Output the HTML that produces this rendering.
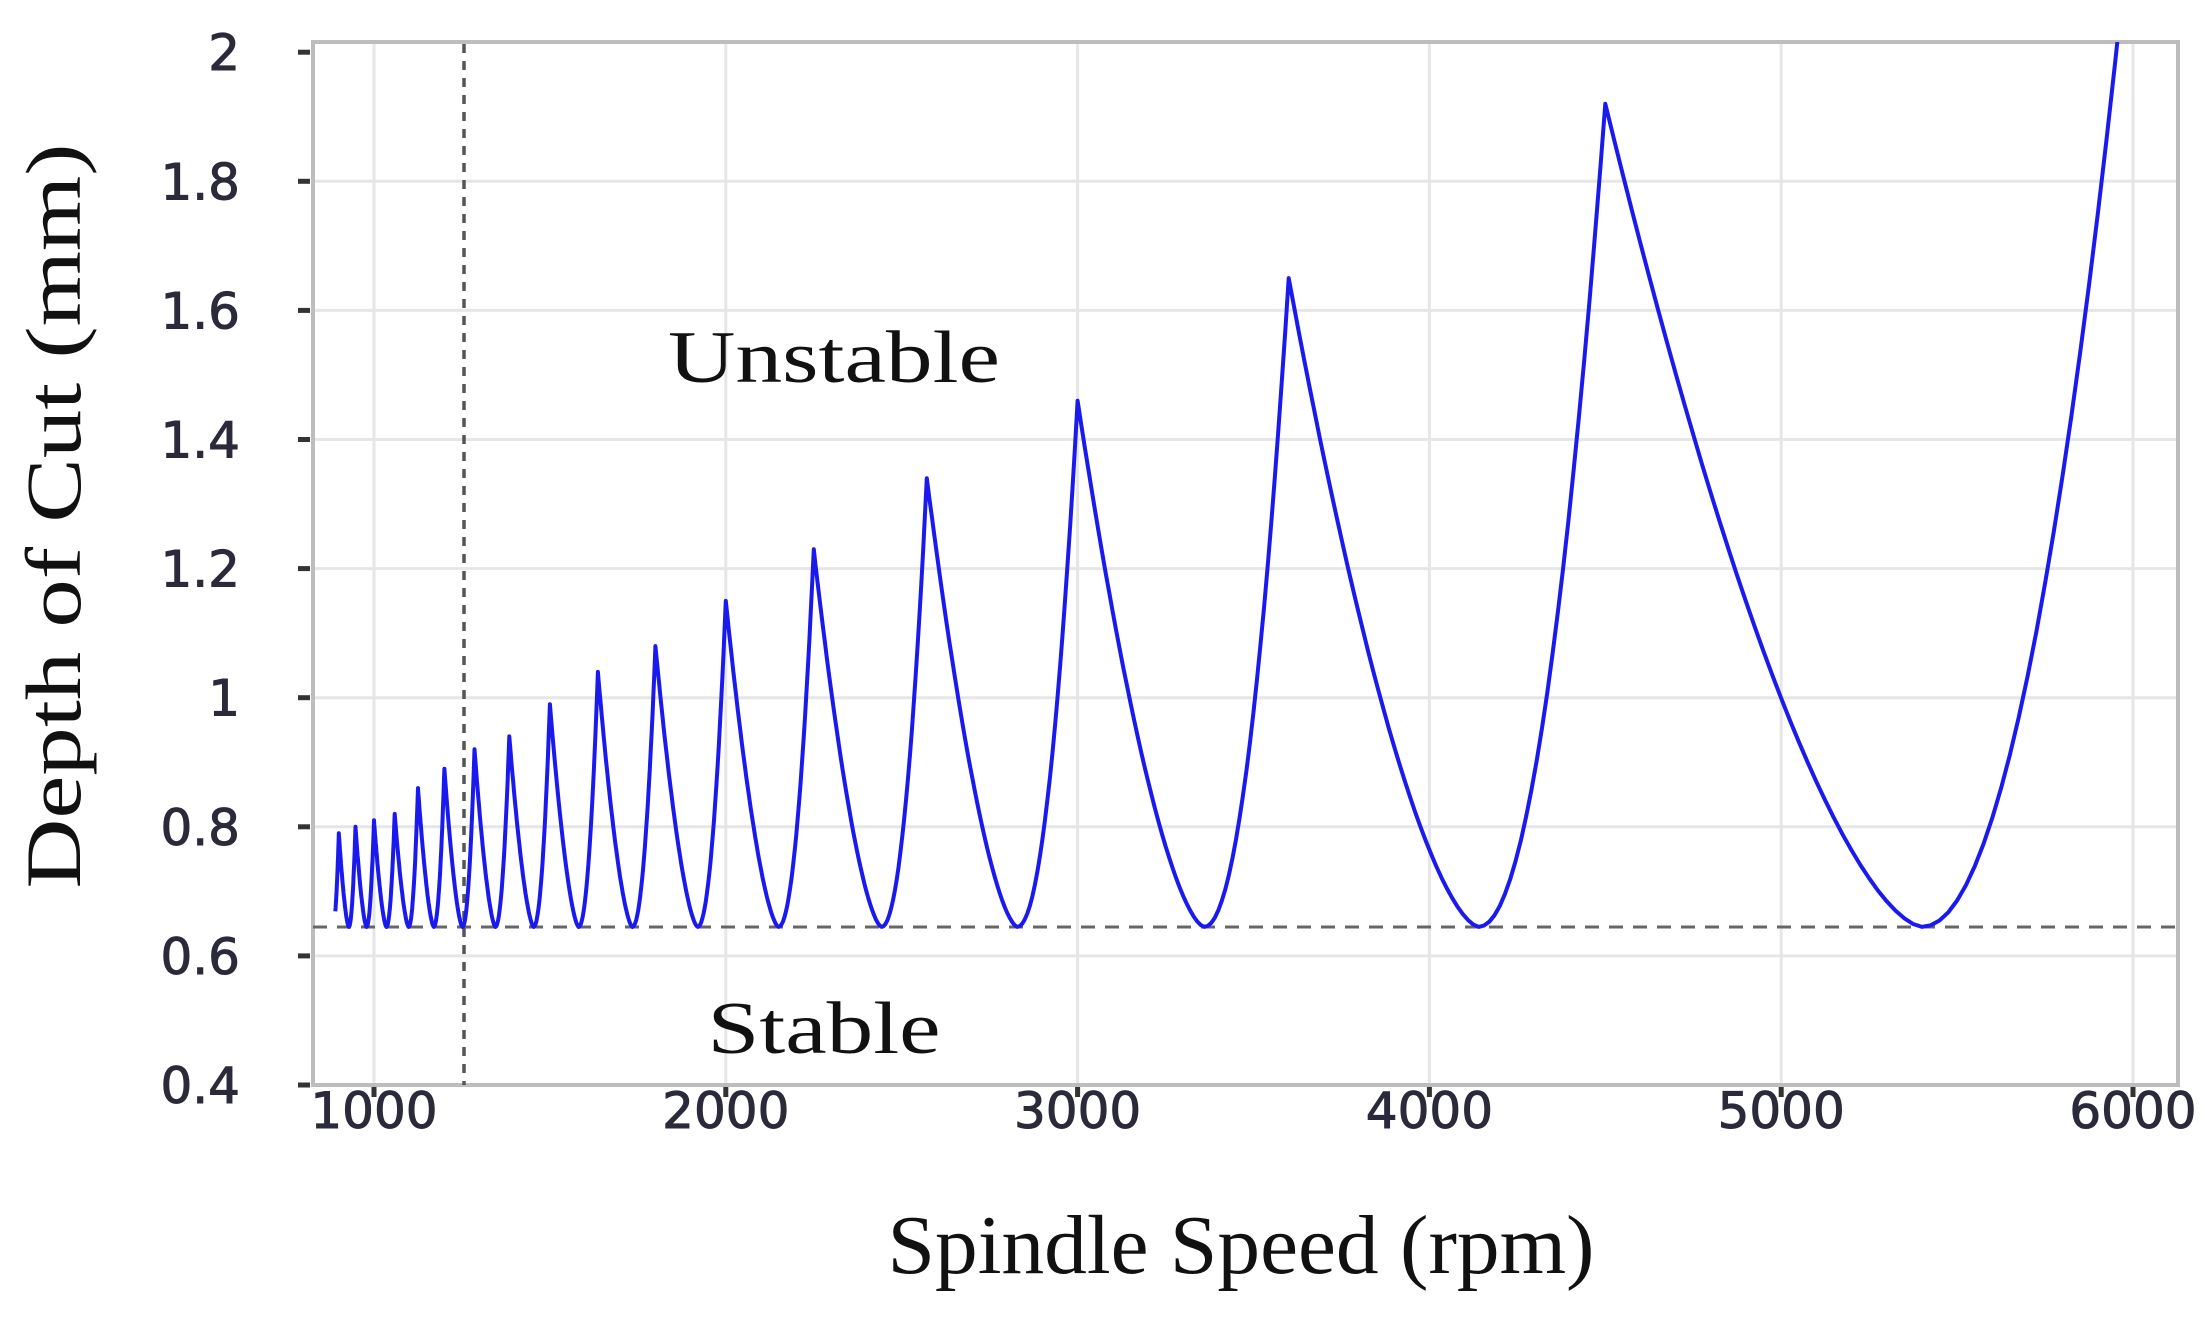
<!DOCTYPE html>
<html><head><meta charset="utf-8"><style>
html,body{margin:0;padding:0;background:#fff;}
svg{display:block}
</style></head><body>
<svg id="s" width="2206" height="1329" xmlns="http://www.w3.org/2000/svg">
<defs><clipPath id="c"><rect x="313" y="42" width="1865" height="1043"/></clipPath></defs>
<g id="grid" stroke="#e6e6e6" stroke-width="3"></g>
<rect x="313" y="42" width="1865" height="1043" fill="none" stroke="#bdbdbd" stroke-width="4"/>
<g id="ticks" stroke="#333" stroke-width="5"></g>
<g id="labels" font-family="DejaVu Sans, sans-serif" font-size="50" fill="#2a2a3a" stroke="#2a2a3a" stroke-width="1"></g>
<line x1="313" y1="927" x2="2178" y2="927" stroke="#666" stroke-width="3" stroke-dasharray="14,10"/>
<line x1="464" y1="44" x2="464" y2="1085" stroke="#555" stroke-width="3.5" stroke-dasharray="9,8"/>
<path id="curve" clip-path="url(#c)" fill="none" stroke="#1a1aee" stroke-width="4" stroke-linejoin="round"/>
<text x="834" y="382" font-family="Liberation Serif, serif" font-size="74" text-anchor="middle" fill="#111" textLength="332" lengthAdjust="spacingAndGlyphs">Unstable</text>
<text x="824" y="1053" font-family="Liberation Serif, serif" font-size="74" text-anchor="middle" fill="#111" textLength="233" lengthAdjust="spacingAndGlyphs">Stable</text>
<text x="1241" y="1273" font-family="Liberation Serif, serif" font-size="84" text-anchor="middle" fill="#111" textLength="707" lengthAdjust="spacingAndGlyphs">Spindle Speed (rpm)</text>
<text transform="translate(80,516) rotate(-90)" font-family="Liberation Serif, serif" font-size="78" text-anchor="middle" fill="#111" textLength="745" lengthAdjust="spacingAndGlyphs">Depth of Cut (mm)</text>
</svg>
<script>
var NS="http://www.w3.org/2000/svg";
function X(r){return 374+(r-1000)*0.3518;}
function Y(v){return 1085-(v-0.4)/0.2*129.1;}
function el(p,t,a,txt){var e=document.createElementNS(NS,t);for(var k in a)e.setAttribute(k,a[k]);if(txt)e.textContent=txt;document.getElementById(p).appendChild(e);}
for(var r=1000;r<=6000;r+=1000){el("grid","line",{x1:X(r),y1:44,x2:X(r),y2:1083});el("ticks","line",{x1:X(r),y1:1087,x2:X(r),y2:1097});el("labels","text",{x:X(r),y:1128,"text-anchor":"middle"},String(r));}
var yl=["0.4","0.6","0.8","1","1.2","1.4","1.6","1.8","2"];
for(var i=0;i<9;i++){var v=0.4+0.2*i,y=Y(v);if(i>0&&i<8)el("grid","line",{x1:315,y1:y,x2:2176,y2:y});el("ticks","line",{x1:298,y1:y,x2:310,y2:y});el("labels","text",{x:240,y:y+18,"text-anchor":"end"},yl[i]);}
var H={3:2.25,4:1.92,5:1.65,6:1.46,7:1.34,8:1.23,9:1.15,10:1.08,11:1.04,12:0.99,13:0.94,14:0.92,15:0.89,16:0.86,17:0.82,18:0.81,19:0.80,20:0.79,21:0.75};
var mn=0.645,d="";
for(var m=21;m>=3;m--){
 var a=18000/(m+1),b=18000/m,hL=H[m+1]||0.75,hR=H[m];
 if(m==20)hL=0.78;
 var t0=0.6,N=60;
 for(var j=0;j<=N;j++){var t=j/N,val;
  if(t<t0)val=mn+(hL-mn)*Math.pow((t0-t)/t0,1.58);else val=mn+(hR-mn)*Math.pow((t-t0)/(1-t0),2.05);
  var r=a+(b-a)*t;if(r<890)continue;
  d+=(d?"L":"M")+X(r).toFixed(1)+","+Y(val).toFixed(1);}
}
document.getElementById("curve").setAttribute("d",d);
</script>
</body></html>
